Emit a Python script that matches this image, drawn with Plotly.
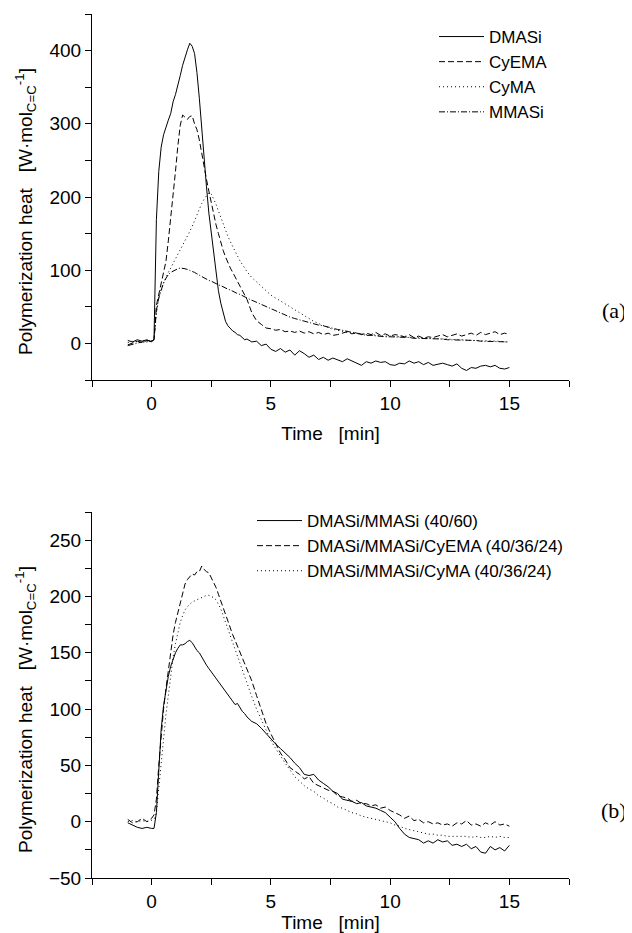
import plotly.graph_objects as go

# ---------------- data ----------------
time_min = [-1.0, -0.8, -0.6, -0.4, -0.2, 0.0,
            0.1, 0.2, 0.3, 0.4, 0.5, 0.6, 0.7, 0.8, 0.9, 1.0,
            1.1, 1.2, 1.3, 1.4, 1.5, 1.6, 1.7, 1.8, 1.9, 2.0,
            2.1, 2.2, 2.3, 2.4, 2.5, 2.6, 2.7, 2.8, 2.9, 3.0,
            3.1, 3.2, 3.3, 3.4, 3.5, 3.6, 3.7, 3.8, 3.9, 4.0,
            4.2, 4.4, 4.6, 4.8, 5.0, 5.2, 5.4, 5.6, 5.8, 6.0,
            6.2, 6.4, 6.6, 6.8, 7.0, 7.2, 7.4, 7.6, 7.8, 8.0,
            8.2, 8.4, 8.6, 8.8, 9.0, 9.2, 9.4, 9.6, 9.8, 10.0,
            10.2, 10.4, 10.6, 10.8, 11.0, 11.2, 11.4, 11.6, 11.8, 12.0,
            12.2, 12.4, 12.6, 12.8, 13.0, 13.2, 13.4, 13.6, 13.8, 14.0,
            14.2, 14.4, 14.6, 14.8, 15.0]

# panel (a)
dmasi = [4, 2, 5, 3, 5, 2,
         6, 169, 235, 268, 285, 296, 305, 314, 330, 340,
         352, 366, 380, 392, 401, 410, 406, 396, 370, 335,
         290, 250, 214, 178, 150, 120, 92, 72, 55, 42,
         30, 24, 20, 17, 15, 12, 11, 8, 5, 6,
         2, 3, -3, -1, -8, -11, -7, -12, -9, -16,
         -10, -14, -19, -16, -22, -19, -23, -20, -22, -25,
         -21, -24, -27, -30, -25, -27, -24, -26, -25, -29,
         -30, -27, -28, -24, -27, -25, -29, -26, -30, -28,
         -27, -29, -31, -28, -34, -37, -33, -34, -31, -30,
         -32, -30, -34, -35, -33]

cyema = [-2, 1, 3, 1, 4, 3,
         5, 52, 68, 80, 95, 112, 140, 170, 200, 235,
         270, 298, 312, 309, 306, 310, 311, 300, 292, 278,
         258, 240, 224, 208, 192, 176, 162, 150, 138, 127,
         118, 110, 103, 97, 91, 85, 80, 73, 66, 60,
         42, 31, 26, 21, 20, 18, 19, 16, 17, 15,
         17, 14, 16, 13, 15, 12, 14, 11, 12, 14,
         16, 13, 15, 12, 14, 12, 15, 11, 13, 10,
         12, 11, 9, 12, 8, 10, 7, 9, 8, 10,
         12, 9, 11, 13, 10, 12, 14, 11, 15, 12,
         14, 16, 12, 14, 12]

cyma = [1, 3, 2, 4, 3, 4,
        6, 40, 62, 74, 82, 90, 97, 103, 109, 115,
        121, 127, 133, 139, 146, 153, 160, 168, 176, 184,
        191, 197, 202, 206, 204, 198, 190, 181, 172, 163,
        154, 146, 139, 132, 125, 119, 113, 108, 103, 98,
        90, 84, 78, 71, 66, 62, 58, 53, 49, 45,
        41, 37, 33, 30, 27, 24, 21, 19, 18, 16,
        15, 14, 13, 13, 12, 12, 11, 11, 10, 10,
        9, 9, 9, 8, 8, 8, 7, 7, 7, 6,
        6, 6, 5, 5, 5, 4, 4, 4, 4, 3,
        3, 3, 3, 2, 2]

mmasi = [-3, -1, 1, 2, 2, 3,
         5, 45, 62, 74, 83, 89, 94, 97, 99, 101,
         102, 103, 103, 102, 101, 100, 99, 97, 95, 93,
         91, 89, 88, 86, 85, 83, 82, 80, 79, 77,
         76, 74, 73, 71, 70, 68, 67, 65, 64, 62,
         59, 56, 53, 50, 47, 44, 41, 38, 36, 34,
         32, 30, 28, 27, 25, 24, 22, 20, 19, 18,
         16, 15, 14, 12, 11, 11, 10, 10, 9, 9,
         9, 8, 8, 8, 7, 7, 7, 7, 6, 6,
         6, 5, 5, 5, 4, 4, 4, 4, 3, 3,
         3, 3, 2, 2, 2]

# panel (b)
mix_40_60 = [-1, -3, -5, -6, -5, -6,
             -6, 8, 48, 82, 103, 118, 129, 138, 145, 150,
             154, 157, 157, 158, 160, 161, 159, 155, 152, 150,
             146, 142, 139, 136, 133, 131, 127, 124, 121, 118,
             116, 113, 109, 106, 104, 105, 101, 98, 96, 93,
             89, 87, 83, 78, 73, 69, 65, 61, 57, 52,
             48, 42, 41, 42, 37, 34, 31, 27, 25, 20,
             19, 18, 16, 17, 14, 13, 12, 10, 8, 4,
             0, -6, -11, -14, -15, -16, -19, -17, -19, -16,
             -18, -17, -21, -20, -22, -20, -24, -22, -27, -28,
             -22, -25, -23, -26, -21]

mix_cyema = [2, -1, 0, 3, 0, 3,
             6, 20, 50, 78, 100, 118, 135, 150, 166, 177,
             186, 195, 203, 211, 215, 218, 220, 219, 222, 222,
             227, 224, 222, 221, 217, 213, 208, 202, 196, 189,
             183, 177, 171, 166, 161, 156, 151, 146, 141, 136,
             125, 112, 99, 87, 78, 70, 61, 55, 48, 45,
             42, 38, 40, 34, 32, 30, 28, 27, 23, 22,
             21, 18, 19, 16, 16, 14, 15, 12, 13, 10,
             8, 6, 3, 5, 1, 2, -1, 0, -2, -1,
             -3, -2, -4, -1, -2, 1, -3, -2, -4, -1,
             -3, 0, -3, -2, -4]

mix_cyma = [0, 1, 0, 1, 0, 1,
            2, 8, 30, 55, 76, 95, 112, 130, 146, 158,
            169, 177, 183, 188, 191, 193, 195, 196, 197, 198,
            199, 200, 201, 201, 200, 199, 197, 193, 189, 183,
            177, 171, 165, 159, 152, 146, 140, 134, 128, 122,
            111, 100, 91, 81, 72, 65, 58, 52, 46, 40,
            36, 32, 29, 27, 23, 21, 18, 16, 13, 12,
            10, 8, 7, 5, 4, 3, 2, 1, 0, -1,
            -3, -4, -6, -7, -8, -9, -10, -11, -11, -12,
            -12, -13, -13, -13, -13, -13, -14, -13, -14, -14,
            -13, -14, -13, -14, -14]

names_a = ["DMASi", "CyEMA", "CyMA", "MMASi"]
names_b = ["DMASi/MMASi (40/60)", "DMASi/MMASi/CyEMA (40/36/24)",
           "DMASi/MMASi/CyMA (40/36/24)"]
x_ticks = [0, 5, 10, 15]
y_ticks_a = [0, 100, 200, 300, 400]
y_ticks_b = [-50, 0, 50, 100, 150, 200, 250]

for s in (dmasi, cyema, cyma, mmasi, mix_40_60, mix_cyema, mix_cyma):
    assert len(s) == len(time_min), len(s)

# ---------------- styles ----------------
FONT = "Liberation Sans, Arial, sans-serif"
SERIF = "Liberation Serif, Times New Roman, serif"
SOLID = "solid"
DASH = "6px,3px"
DOT = "1px,3px"
DASHDOT = "6px,2px,1px,2px"

fig = go.Figure()
for name, ys, dash in zip(names_a, (dmasi, cyema, cyma, mmasi), (SOLID, DASH, DOT, DASHDOT)):
    fig.add_trace(go.Scatter(x=time_min, y=ys, mode="lines", name=name,
                             line=dict(color="black", width=1, dash=dash),
                             xaxis="x", yaxis="y", legend="legend"))
for name, ys, dash in zip(names_b, (mix_40_60, mix_cyema, mix_cyma), (SOLID, DASH, DOT)):
    fig.add_trace(go.Scatter(x=time_min, y=ys, mode="lines", name=name,
                             line=dict(color="black", width=1, dash=dash),
                             xaxis="x2", yaxis="y2", legend="legend2"))

# the page has an 8px body margin; figure is offset by it
OFF = 8
W, H = 632 - OFF, 933 - OFF
# targets below are in page pixels
PLOT_L, PLOT_R = 92, 569
TOP_T, TOP_B = 14, 380
BOT_T, BOT_B = 512, 878
ML = PLOT_L - OFF
MR = W - (PLOT_R - OFF)
MT = TOP_T - OFF
MB = H - (BOT_B - OFF)
PH = H - MT - MB
PW = W - ML - MR


def py(page_px):
    return 1 - (page_px - OFF - MT) / PH


def pxx(page_px):
    return (page_px - OFF - ML) / PW


TICKFONT = dict(family=FONT, size=19, color="black")
TITLEFONT = dict(family=FONT, size=19, color="black")
common_axis = dict(showline=True, linecolor="black", linewidth=1, mirror=False,
                   showgrid=False, zeroline=False, ticks="outside", ticklen=6,
                   tickwidth=1, tickcolor="black", tickfont=TICKFONT,
                   automargin=False)

ytitle = "Polymerization heat\u00a0\u00a0\u00a0[W\u00b7mol<sub>C=C</sub><sup>-1</sup>]"
xtitle = "Time\u00a0\u00a0\u00a0[min]"

fig.update_layout(
    template="none",
    width=W, height=H,
    margin=dict(l=ML, r=MR, t=MT, b=MB, autoexpand=False),
    paper_bgcolor="white", plot_bgcolor="white",
    showlegend=True,
    xaxis=dict(common_axis, domain=[0, 1], anchor="y", range=[-2.5, 17.5],
               tickvals=x_ticks,
               minor=dict(dtick=2.5, tick0=0, ticks="outside", ticklen=6, tickcolor="black"),
               title=dict(text=xtitle, font=TITLEFONT, standoff=13)),
    yaxis=dict(common_axis, domain=[py(TOP_B), 1], anchor="x", range=[-50, 450],
               tickvals=y_ticks_a,
               minor=dict(dtick=50, tick0=0, ticks="outside", ticklen=6, tickcolor="black")),
    xaxis2=dict(common_axis, domain=[0, 1], anchor="y2", range=[-2.5, 17.5],
                tickvals=x_ticks,
                minor=dict(dtick=2.5, tick0=0, ticks="outside", ticklen=6, tickcolor="black"),
                title=dict(text=xtitle, font=TITLEFONT, standoff=5)),
    yaxis2=dict(common_axis, domain=[0, py(BOT_T)], anchor="x2", range=[-50, 275],
                tickvals=y_ticks_b,
                minor=dict(dtick=25, tick0=0, ticks="outside", ticklen=6, tickcolor="black")),
    legend=dict(x=pxx(434), y=py(19), xanchor="left", yanchor="top",
                font=dict(family=FONT, size=17, color="black"), itemwidth=45,
                bgcolor="rgba(0,0,0,0)", borderwidth=0, tracegroupgap=0),
    legend2=dict(x=pxx(252), y=py(503), xanchor="left", yanchor="top",
                 font=dict(family=FONT, size=17, color="black"), itemwidth=45,
                 bgcolor="rgba(0,0,0,0)", borderwidth=0, tracegroupgap=0),
    annotations=[
        dict(text=ytitle, textangle=-90, x=pxx(26), y=py(212), xref="paper", yref="paper",
             showarrow=False, xanchor="center", yanchor="middle", font=TITLEFONT),
        dict(text=ytitle, textangle=-90, x=pxx(25), y=py(710), xref="paper", yref="paper",
             showarrow=False, xanchor="center", yanchor="middle", font=TITLEFONT),
        dict(text="(a)", x=pxx(614), y=py(310), xref="paper", yref="paper",
             showarrow=False, xanchor="center", yanchor="middle",
             font=dict(family=SERIF, size=22, color="black")),
        dict(text="(b)", x=pxx(614), y=py(810), xref="paper", yref="paper",
             showarrow=False, xanchor="center", yanchor="middle",
             font=dict(family=SERIF, size=22, color="black")),
    ],
)

fig.write_html("out.html")
